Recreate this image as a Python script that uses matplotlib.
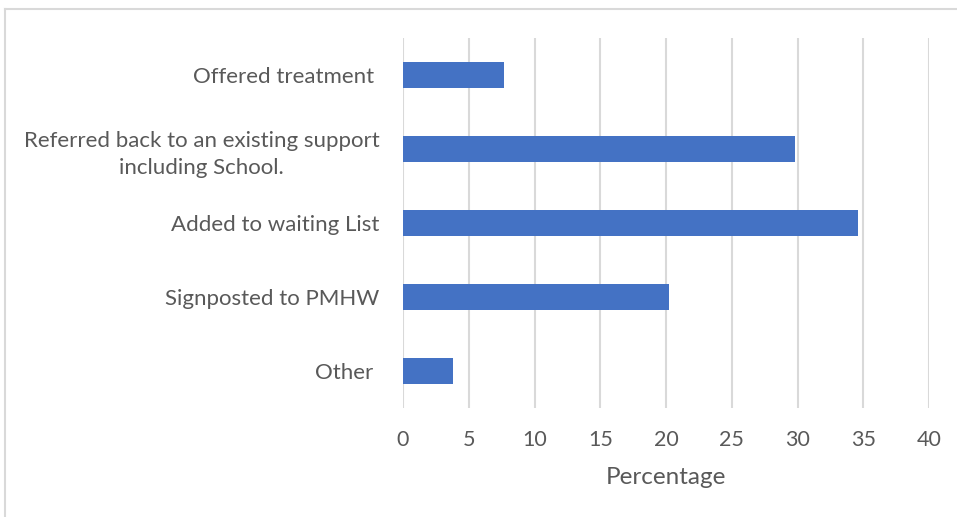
import matplotlib.pyplot as plt
from matplotlib.lines import Line2D

categories = ['Offered treatment ',
              'Referred back to an existing support\nincluding School.',
              'Added to waiting List',
              'Signposted to PMHW',
              'Other ']
percentages = [7.7, 29.8, 34.6, 20.2, 3.8]
xticks = [0, 5, 10, 15, 20, 25, 30, 35, 40]

plt.rcParams['font.family'] = ['Lato', 'DejaVu Sans']
text_color = '#595959'

fig = plt.figure(figsize=(9.57, 5.17), dpi=100)
ax = fig.add_axes([403 / 957, 1 - 408 / 517, 526 / 957, 370 / 517])

ypos = range(len(categories))
ax.barh(ypos, percentages, height=0.35, color='#4472c4', zorder=3)
ax.set_ylim(len(categories) - 0.5, -0.5)
ax.set_xlim(0, 40)
ax.set_xticks(xticks)
ax.set_yticks(list(ypos))
ax.set_yticklabels(categories, fontsize=16, color=text_color,
                   multialignment='center', linespacing=1.45)
ax.tick_params(axis='y', length=0, pad=17)
ax.tick_params(axis='x', length=0, pad=16, labelsize=15.5, labelcolor=text_color)
ax.grid(axis='x', color='#d9d9d9', linewidth=1.5, zorder=0)
for s in ax.spines.values():
    s.set_visible(False)
ax.set_xlabel('Percentage', fontsize=17.5, color=text_color, labelpad=12)

# light frame around the chart area
fig.add_artist(Line2D([5 / 957, 1], [1 - 9 / 517] * 2, color='#d9d9d9',
                      linewidth=1.5, transform=fig.transFigure))
fig.add_artist(Line2D([5 / 957] * 2, [0, 1 - 9 / 517], color='#d9d9d9',
                      linewidth=1.5, transform=fig.transFigure))

fig.savefig('out.png', dpi=100)
